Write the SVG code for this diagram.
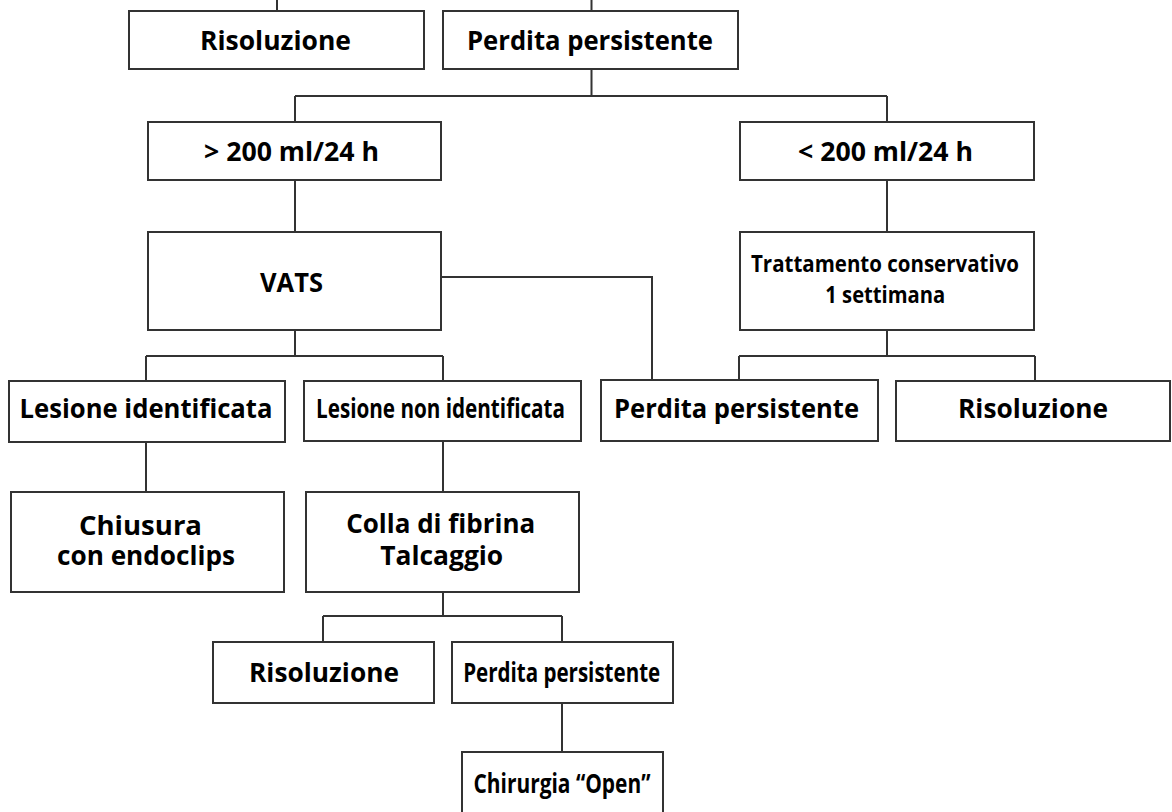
<svg xmlns="http://www.w3.org/2000/svg" width="1172" height="812" viewBox="0 0 1172 812">
<style>
.box{fill:#ffffff;stroke:#333333;stroke-width:2}
.ln{fill:none;stroke:#333333;stroke-width:2}
.t{font-family:"Open Sans","Liberation Sans",sans-serif;font-weight:700;font-size:27px;fill:#000000;text-anchor:middle}
.c{font-size:26px}
.s{font-size:23px}
</style>
<rect width="1172" height="812" fill="#ffffff"/>
<g id="connectors">
<path class="ln" d="M277 0 V11"/>
<path class="ln" d="M591.5 0 V11"/>
<path class="ln" d="M591.5 69 V96 M295 96 H887 M295 96 V122 M887 96 V122"/>
<path class="ln" d="M295 180 V232"/>
<path class="ln" d="M887 180 V232"/>
<path class="ln" d="M441 277 H652 V380"/>
<path class="ln" d="M295 330 V356 M146 356 H443 M146 356 V381 M443 356 V381"/>
<path class="ln" d="M887 330 V356 M739 356 H1035 M739 356 V380 M1035 356 V381"/>
<path class="ln" d="M146 442 V492"/>
<path class="ln" d="M443 441 V492"/>
<path class="ln" d="M443 592 V616 M323 616 H562 M323 616 V642 M562 616 V642"/>
<path class="ln" d="M562 703 V752"/>
</g>
<g id="n-top-risoluzione">
<rect class="box" x="129" y="11" width="295" height="58"/>
<text class="t" x="275.5" y="50" textLength="151" lengthAdjust="spacingAndGlyphs">Risoluzione</text>
</g>
<g id="n-top-perdita">
<rect class="box" x="443" y="11" width="295" height="58"/>
<text class="t" x="590" y="50" textLength="246" lengthAdjust="spacingAndGlyphs">Perdita persistente</text>
</g>
<g id="n-gt200">
<rect class="box" x="148" y="122" width="293" height="58"/>
<text class="t" x="291.5" y="161" textLength="175" lengthAdjust="spacingAndGlyphs">&gt; 200 ml/24 h</text>
</g>
<g id="n-lt200">
<rect class="box" x="740" y="122" width="294" height="58"/>
<text class="t" x="885.5" y="161" textLength="175" lengthAdjust="spacingAndGlyphs">&lt; 200 ml/24 h</text>
</g>
<g id="n-vats">
<rect class="box" x="148" y="232" width="293" height="98"/>
<text class="t" x="291.5" y="292" textLength="63" lengthAdjust="spacingAndGlyphs">VATS</text>
</g>
<g id="n-trattamento">
<rect class="box" x="740" y="232" width="294" height="98"/>
<text class="t s" x="885" y="272" textLength="268" lengthAdjust="spacingAndGlyphs">Trattamento conservativo</text>
<text class="t s" x="885.3" y="303" textLength="120" lengthAdjust="spacingAndGlyphs">1 settimana</text>
</g>
<g id="n-lesione-id">
<rect class="box" x="9" y="381" width="276" height="61"/>
<text class="t" x="146" y="418" textLength="253" lengthAdjust="spacingAndGlyphs">Lesione identificata</text>
</g>
<g id="n-lesione-non">
<rect class="box" x="304" y="381" width="277" height="60"/>
<text class="t c" x="440.5" y="418" textLength="249" lengthAdjust="spacingAndGlyphs">Lesione non identificata</text>
</g>
<g id="n-perdita-mid">
<rect class="box" x="601" y="380" width="277" height="61"/>
<text class="t" x="736.5" y="418" textLength="245" lengthAdjust="spacingAndGlyphs">Perdita persistente</text>
</g>
<g id="n-risoluzione-right">
<rect class="box" x="896" y="381" width="274" height="60"/>
<text class="t" x="1033" y="418" textLength="150" lengthAdjust="spacingAndGlyphs">Risoluzione</text>
</g>
<g id="n-chiusura">
<rect class="box" x="11" y="492" width="273" height="100"/>
<text class="t" x="140.5" y="535" textLength="123" lengthAdjust="spacingAndGlyphs">Chiusura</text>
<text class="t" x="146" y="565" textLength="178" lengthAdjust="spacingAndGlyphs">con endoclips</text>
</g>
<g id="n-colla">
<rect class="box" x="306" y="492" width="273" height="100"/>
<text class="t" x="440.7" y="533" textLength="189" lengthAdjust="spacingAndGlyphs">Colla di fibrina</text>
<text class="t" x="441.7" y="565" textLength="123" lengthAdjust="spacingAndGlyphs">Talcaggio</text>
</g>
<g id="n-risoluzione-bot">
<rect class="box" x="213" y="642" width="221" height="61"/>
<text class="t" x="324" y="682" textLength="150" lengthAdjust="spacingAndGlyphs">Risoluzione</text>
</g>
<g id="n-perdita-bot">
<rect class="box" x="452" y="642" width="221" height="61"/>
<text class="t c" x="561.7" y="682" textLength="197" lengthAdjust="spacingAndGlyphs">Perdita persistente</text>
</g>
<g id="n-chirurgia">
<rect class="box" x="462" y="752" width="201" height="66"/>
<text class="t c" x="562" y="793" textLength="177" lengthAdjust="spacingAndGlyphs">Chirurgia “Open”</text>
</g>
</svg>
